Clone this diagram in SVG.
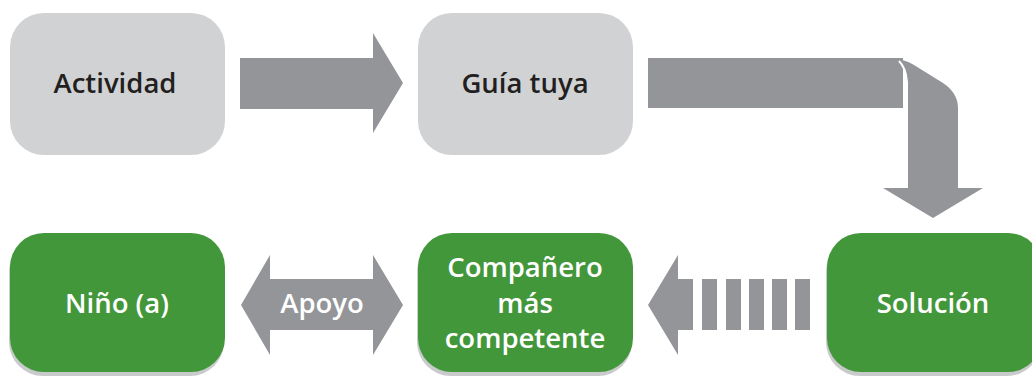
<svg xmlns="http://www.w3.org/2000/svg" width="1032" height="380" viewBox="0 0 1032 380">
<style>
.gbox{fill:#d1d2d4}
.green{fill:#43973b}
.shadow{fill:#c9cacc}
.arr{fill:#939598}
.t{font-family:"Open Sans","Liberation Sans",sans-serif;font-weight:600;font-size:27.5px;text-anchor:middle}
.dark{fill:#231f20}
.white{fill:#ffffff}
</style>
<rect width="1032" height="380" fill="#ffffff"/>
<g id="connectors">
  <path class="arr" d="M240 58 H373 V33 L403 83 L373 133 V109 H240 Z"/>
  <path class="arr" d="M648 58 H903 V108 H648 Z"/>
  <path class="arr" d="M886 58 Q903 58 914 65 L943 83 Q958 93 958 108 V188 H983 L933 218 L883 188 H908 V82 Q907 68 899 60 Z"/>
  <path d="M899 61 Q906 68 906 80 V108" fill="none" stroke="#ffffff" stroke-width="2"/>
  <path class="arr" d="M648 305 L678 255 V279 H693 V330 H678 V355 Z"/>
  <rect class="arr" x="702" y="279" width="15" height="51"/>
  <rect class="arr" x="726" y="279" width="15" height="51"/>
  <rect class="arr" x="749" y="279" width="15" height="51"/>
  <rect class="arr" x="772" y="279" width="15" height="51"/>
  <rect class="arr" x="795" y="279" width="15" height="51"/>
  <path class="arr" d="M241 305 L270 255 V279 H373 V255 L403 305 L373 355 V330 H270 V355 Z"/>
  <text class="t white" x="322" y="313">Apoyo</text>
</g>
<g id="actividad">
  <rect class="gbox" x="10" y="13" width="215" height="142" rx="34"/>
  <text class="t dark" x="115" y="93">Actividad</text>
</g>
<g id="guia">
  <rect class="gbox" x="418" y="13" width="215" height="142" rx="34"/>
  <text class="t dark" x="525" y="93">Guía tuya</text>
</g>
<g id="nino">
  <rect class="shadow" x="9" y="237" width="215" height="139" rx="34"/>
  <rect class="green" x="10" y="233" width="215" height="139" rx="34"/>
  <text class="t white" x="117" y="313">Niño (a)</text>
</g>
<g id="companero">
  <rect class="shadow" x="417" y="237" width="215" height="139" rx="34"/>
  <rect class="green" x="418" y="233" width="215" height="139" rx="34"/>
  <text class="t white" x="525" y="277">Compañero</text>
  <text class="t white" x="525" y="313">más</text>
  <text class="t white" x="525" y="348">competente</text>
</g>
<g id="solucion">
  <rect class="shadow" x="826" y="237" width="215" height="139" rx="34"/>
  <rect class="green" x="827" y="233" width="215" height="139" rx="34"/>
  <text class="t white" x="933" y="313">Solución</text>
</g>
</svg>
